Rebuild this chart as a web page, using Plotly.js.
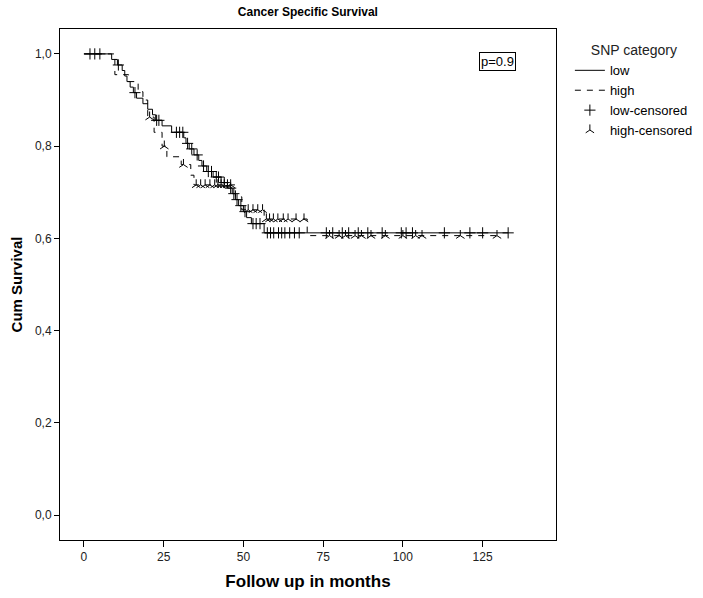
<!DOCTYPE html>
<html>
<head>
<meta charset="utf-8">
<script src="https://cdn.plot.ly/plotly-3.0.1.min.js"></script>
<style>html,body{margin:0;padding:0;background:#fff;}#chart{width:703px;height:598px;}</style>
</head>
<body>
<div id="chart"></div>
<script>
// Low SNP group: event times (months) and survival after each event
const lowEventTimes = [8.7, 10.5, 12.0, 12.8, 13.5, 14.5, 15.5, 16.5, 18.5, 20.0, 21.5, 22.5, 24.5, 27.5, 31.3, 32.0, 33.0, 34.5, 36.0, 37.0, 38.5, 40.5, 43.0, 45.0, 46.5, 47.5, 48.5, 50.0, 51.0, 52.5, 56.5];
const lowSurvival   = [0.988, 0.976, 0.964, 0.952, 0.940, 0.928, 0.916, 0.904, 0.892, 0.880, 0.868, 0.856, 0.844, 0.830, 0.818, 0.806, 0.794, 0.781, 0.769, 0.757, 0.745, 0.733, 0.721, 0.709, 0.697, 0.684, 0.671, 0.658, 0.645, 0.632, 0.612];
const lowEnd = 133;
const lowCensorTimes = [1.9, 3.4, 5.0, 10.8, 16.0, 22.8, 23.5, 29.0, 30.0, 31.0, 32.5, 33.8, 35.5, 37.5, 39.0, 40.0, 41.5, 42.2, 44.0, 46.0, 47.0, 48.0, 49.2, 50.5, 53.0, 54.0, 55.2, 57.5, 58.5, 59.5, 61.0, 62.0, 63.0, 64.5, 66.0, 67.5, 76.0, 78.0, 81.0, 83.0, 86.0, 89.0, 93.5, 99.5, 101.0, 103.0, 113.0, 121.0, 125.0, 133.0];

// High SNP group
const highEventTimes = [9.7, 14.0, 17.0, 18.5, 20.0, 22.0, 24.5, 26.0, 30.5, 33.5, 34.5, 47.5, 49.5, 56.5, 70.0];
const highSurvival   = [0.955, 0.940, 0.918, 0.900, 0.863, 0.830, 0.800, 0.777, 0.760, 0.737, 0.716, 0.690, 0.662, 0.642, 0.606];
const highEnd = 129.5;
const highCensorTimes = [20.6, 25.2, 31.2, 35.2, 36.6, 38.0, 39.5, 41.0, 42.0, 43.0, 44.0, 45.0, 46.0, 51.5, 53.0, 54.5, 56.0, 57.2, 58.2, 59.4, 60.8, 62.5, 64.0, 66.5, 69.0, 77.0, 80.0, 82.0, 85.0, 87.0, 90.0, 94.5, 100.0, 104.0, 106.0, 118.0, 129.5];

const xTickVals = [0, 25, 50, 75, 100, 125];
const yTickVals = [0, 0.2, 0.4, 0.6, 0.8, 1.0];
const yTickText = ["0,0", "0,2", "0,4", "0,6", "0,8", "1,0"];

function stepLine(times, surv, end) {
  const x = [0], y = [1];
  times.forEach((t, i) => { x.push(t); y.push(surv[i]); });
  x.push(end); y.push(surv[surv.length - 1]);
  return {x, y};
}
function survAt(times, surv, t) {
  let s = 1;
  for (let i = 0; i < times.length; i++) { if (times[i] <= t) s = surv[i]; }
  return s;
}

const lowLine = stepLine(lowEventTimes, lowSurvival, lowEnd);
const highLine = stepLine(highEventTimes, highSurvival, highEnd);

const traces = [
  {x: lowLine.x, y: lowLine.y, mode: 'lines', name: 'low',
   line: {shape: 'hv', color: '#000', width: 1}},
  {x: highLine.x, y: highLine.y, mode: 'lines', name: 'high',
   line: {shape: 'hv', color: '#000', width: 1, dash: '6px,6px'}},
  {x: lowCensorTimes, y: lowCensorTimes.map(t => survAt(lowEventTimes, lowSurvival, t)),
   mode: 'markers', name: 'low-censored',
   marker: {symbol: 'cross-thin', size: 8, color: '#000', line: {color: '#000', width: 1}}},
  {x: highCensorTimes, y: highCensorTimes.map(t => survAt(highEventTimes, highSurvival, t)),
   mode: 'markers', name: 'high-censored',
   marker: {symbol: 'y-up', size: 7, color: '#000', line: {color: '#000', width: 1}}}
];

const layout = {
  width: 703, height: 598,
  margin: {l: 60, r: 147, t: 29, b: 58, autoexpand: false},
  paper_bgcolor: '#fff', plot_bgcolor: '#fff',
  font: {family: 'Liberation Sans, Arial, sans-serif', color: '#222', size: 12},
  title: {text: '<b>Cancer Specific Survival</b>', font: {size: 12, color: '#000'},
          x: 0.438, xanchor: 'center', y: 0.98, yanchor: 'middle'},
  xaxis: {
    range: [-7.5, 148], tickvals: xTickVals, ticks: 'outside', ticklen: 6, tickcolor: '#000',
    showgrid: false, zeroline: false, showline: true, mirror: true, linecolor: '#000', linewidth: 1,
    tickfont: {size: 12, color: '#222'},
    title: {text: '<b>Follow up in months</b>', font: {size: 17, color: '#000'}, standoff: 11}
  },
  yaxis: {
    range: [-0.054, 1.054], tickvals: yTickVals, ticktext: yTickText, ticks: 'outside', ticklen: 5, tickcolor: '#000',
    showgrid: false, zeroline: false, showline: true, mirror: true, linecolor: '#000', linewidth: 1,
    tickfont: {size: 12, color: '#222'},
    title: {text: '<b>Cum Survival</b>', font: {size: 15, color: '#000'}, standoff: 8}
  },
  legend: {
    x: 1.028, y: 0.984, xanchor: 'left', yanchor: 'top',
    font: {size: 13, color: '#000'},
    title: {text: 'SNP category', font: {size: 14, color: '#222'}, side: 'top center'},
    bgcolor: 'rgba(0,0,0,0)', itemwidth: 30, tracegroupgap: 0
  },
  annotations: [{
    xref: 'paper', yref: 'paper', x: 0.882, y: 0.936, xanchor: 'center', yanchor: 'middle',
    text: 'p=0.9', showarrow: false, font: {size: 13, color: '#000'},
    bordercolor: '#000', borderwidth: 1, borderpad: 1, bgcolor: '#fff'
  }],
  showlegend: true
};

Plotly.newPlot('chart', traces, layout, {staticPlot: true, displayModeBar: false});
</script>
</body>
</html>
